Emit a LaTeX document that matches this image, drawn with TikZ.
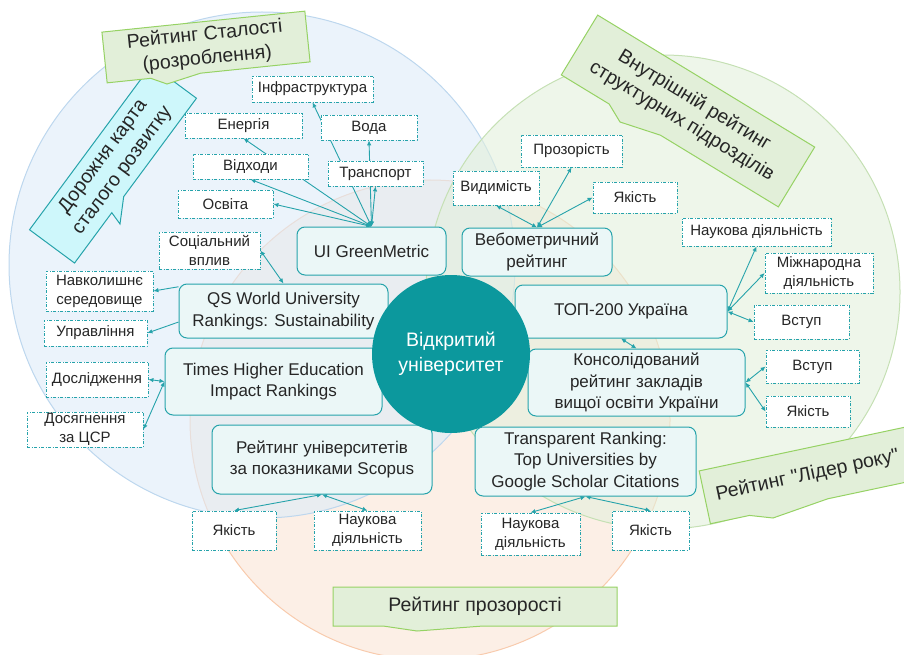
\documentclass[tikz,border=0pt]{standalone}
\usepackage{fontspec}
\setmainfont{Liberation Sans}[Ligatures=TeXOff]
\usetikzlibrary{shapes.callouts,arrows.meta}

\definecolor{tealline}{RGB}{38,163,171}
\definecolor{tealhub}{RGB}{12,152,157}
\definecolor{boxfill}{RGB}{235,247,247}
\definecolor{notefill}{RGB}{226,239,217}
\definecolor{noteline}{RGB}{150,210,100}
\definecolor{cyanfill}{RGB}{206,247,251}
\definecolor{blueback}{RGB}{222,235,248}
\definecolor{blueline}{RGB}{189,215,238}
\definecolor{greenback}{RGB}{227,240,220}
\definecolor{greenline}{RGB}{197,224,180}
\definecolor{orangeback}{RGB}{250,228,214}
\definecolor{orangeline}{RGB}{248,203,173}

\pgfdeclarelayer{back}
\pgfdeclarelayer{links}
\pgfsetlayers{back,links,main}

\tikzset{
  rating/.style={draw=tealline, fill=boxfill, rounded corners=8pt, line width=1pt,
    inner sep=0pt, align=center, text=black!85, font=\fontsize{17}{21.5}\selectfont},
  crit/.style={draw=tealline, fill=white, line width=0.8pt,
    dash pattern=on 3pt off 1.5pt on 1pt off 1.5pt,
    inner sep=0pt, align=center, text=black!85, font=\fontsize{15}{19}\selectfont},
  note/.style={rectangle callout, draw=noteline, fill=notefill, line width=1pt,
    callout pointer width=30pt, inner sep=0pt, align=center, text=black!85,
    font=\fontsize{19.5}{24}\selectfont},
  link/.style={tealline, line width=0.9pt, >={Latex[length=5pt,width=4.5pt]}, <->},
  onelink/.style={link, ->},
}

\begin{document}
\begin{tikzpicture}[x=1pt,y=-1pt]
\useasboundingbox (0,0) rectangle (904,655);

% three rating circles
\begin{pgfonlayer}{back}
  \filldraw[fill=orangeback, fill opacity=0.6, draw=orangeline, line width=1pt] (430,420) circle[radius=240pt];
  \filldraw[fill=blueback, fill opacity=0.6, draw=blueline, line width=1pt] (262,265) circle[radius=253pt];
  \filldraw[fill=greenback, fill opacity=0.6, draw=greenline, line width=1pt] (663,292) circle[radius=237pt];
\end{pgfonlayer}

% callouts
\node[note, draw=tealline, fill=cyanfill, rotate=53.5, minimum width=205pt, minimum height=56pt,
  callout pointer width=20pt, callout absolute pointer={(120,224)}] (roadmap) at (113,164) {Дорожня карта\\сталого розвитку};
\node[note, rotate=5.9, minimum width=204pt, minimum height=51pt,
  callout pointer width=50pt, callout absolute pointer={(167,84)}] (stability) at (206,47) {Рейтинг Сталості\\(розроблення)};
\node[note, rotate=-31.3, minimum width=254pt, minimum height=70pt,
  callout pointer width=60pt, callout absolute pointer={(620,122)}] (internal) at (688,111) {Внутрішній рейтинг\\структурних підрозділів};
\node[note, rotate=12, minimum width=210pt, minimum height=54pt,
  callout pointer width=80pt, callout absolute pointer={(773,518)}] (leader) at (807.5,475.5) {Рейтинг "Лідер року"};
\node[note, minimum width=284pt, minimum height=39pt,
  callout pointer width=100pt, callout absolute pointer={(417,631)}] (transparency) at (475,606.5) {Рейтинг прозорості};

% rankings
\node[rating, minimum width=149pt, minimum height=48pt] (green) at (371.5,251) {UI GreenMetric};
\node[rating, minimum width=150pt, minimum height=48pt] (webo) at (537,252) {Вебометричний\\рейтинг};
\node[rating, minimum width=209pt, minimum height=54pt] (qs) at (283.5,311) {QS World University\\Rankings: Sustainability};
\node[rating, minimum width=217pt, minimum height=67pt] (the) at (273.5,381.5) {Times Higher Education\\Impact Rankings};
\node[rating, minimum width=220pt, minimum height=69pt] (scopus) at (322,459.5) {Рейтинг університетів\\за показниками Scopus};
\node[rating, minimum width=212pt, minimum height=53pt] (top) at (621,311.5) {ТОП-200 Україна};
\node[rating, minimum width=217pt, minimum height=67pt] (cons) at (636.5,382.5) {Консолідований\\рейтинг закладів\\вищої освіти України};
\node[rating, minimum width=221pt, minimum height=69pt] (transp) at (585.5,461.5) {Transparent Ranking:\\Top Universities by\\Google Scholar Citations};

\node[circle, fill=tealhub, minimum size=158pt, inner sep=0pt, align=center, text=white,
  font=\fontsize{19.5}{25}\selectfont] (hub) at (451,354) {Відкритий\\університет};

% criteria
\node[crit, minimum width=121pt, minimum height=26pt] (infra) at (312.5,89) {Інфраструктура};
\node[crit, minimum width=117pt, minimum height=25pt] (energy) at (243.5,125.5) {Енергія};
\node[crit, minimum width=96pt, minimum height=25pt] (water) at (369,127.5) {Вода};
\node[crit, minimum width=115pt, minimum height=25pt] (waste) at (250.5,166.5) {Відходи};
\node[crit, minimum width=95pt, minimum height=25pt] (transport) at (375.5,173.5) {Транспорт};
\node[crit, minimum width=95pt, minimum height=28pt] (edu) at (225.5,204) {Освіта};
\node[crit, minimum width=101pt, minimum height=37pt] (social) at (209.5,250.5) {Соціальний\\вплив};
\node[crit, minimum width=107pt, minimum height=40pt] (environ) at (99.5,291) {Навколишнє\\середовище};
\node[crit, minimum width=103pt, minimum height=26pt] (manage) at (95.5,333) {Управління};
\node[crit, minimum width=102pt, minimum height=35pt] (research) at (97,379.5) {Дослідження};
\node[crit, minimum width=116pt, minimum height=35pt] (sdg) at (85,429.5) {Досягнення\\за ЦСР};
\node[crit, minimum width=84pt, minimum height=39pt] (quala) at (234,530.5) {Якість};
\node[crit, minimum width=107pt, minimum height=39pt] (scia) at (367.5,530.5) {Наукова\\діяльність};
\node[crit, minimum width=99pt, minimum height=42pt] (scib) at (530.5,534) {Наукова\\діяльність};
\node[crit, minimum width=77pt, minimum height=39pt] (qualb) at (650.5,530.5) {Якість};
\node[crit, minimum width=86pt, minimum height=34pt] (visib) at (496,188) {Видимість};
\node[crit, minimum width=101pt, minimum height=32pt] (transpar) at (571.5,151) {Прозорість};
\node[crit, minimum width=84pt, minimum height=31pt] (qualc) at (635,197.5) {Якість};
\node[crit, minimum width=149pt, minimum height=28pt] (scic) at (756.5,232) {Наукова діяльність};
\node[crit, minimum width=108pt, minimum height=40pt] (intl) at (819,273) {Міжнародна\\діяльність};
\node[crit, minimum width=95pt, minimum height=34pt] (admita) at (801.5,322) {Вступ};
\node[crit, minimum width=93pt, minimum height=33pt] (admitb) at (812.5,366.5) {Вступ};
\node[crit, minimum width=84pt, minimum height=31pt] (quald) at (808,411.5) {Якість};

% connectors
\begin{pgfonlayer}{links}
  \draw[link] (green.north) -- (infra.south);
  \draw[link] (green.north) -- (water.south);
  \draw[link] (green.north) -- (transport.south);
  \draw[link] (green.north) -- (energy.south);
  \draw[link] (green.north) -- (waste.south);
  \draw[link] (green.north) -- (edu.east);
  \draw[link] (social.east) -- (qs.north);
  \draw[onelink] (qs.167) -- (environ.east);
  \draw[onelink] (qs.186) -- (manage.east);
  \draw[link] (research.east) -- (the.west);
  \draw[link] (the.west) -- (sdg.east);
  \draw[link] (scopus.south) -- (quala.north);
  \draw[link] (scopus.south) -- (scia.north);
  \draw[link] (transp.south) -- (scib.north);
  \draw[link] (transp.south) -- (qualb.north);
  \draw[link] (webo.north) -- (visib.south);
  \draw[link] (webo.north) -- (transpar.south);
  \draw[link] (webo.north) -- (qualc.west);
  \draw[link] (top.east) -- (scic.south);
  \draw[link] (top.east) -- (intl.west);
  \draw[link] (top.east) -- (admita.west);
  \draw[link] (top.south) -- (cons.north);
  \draw[link] (cons.east) -- (admitb.west);
  \draw[link] (cons.east) -- (quald.west);
\end{pgfonlayer}
\end{tikzpicture}
\end{document}
